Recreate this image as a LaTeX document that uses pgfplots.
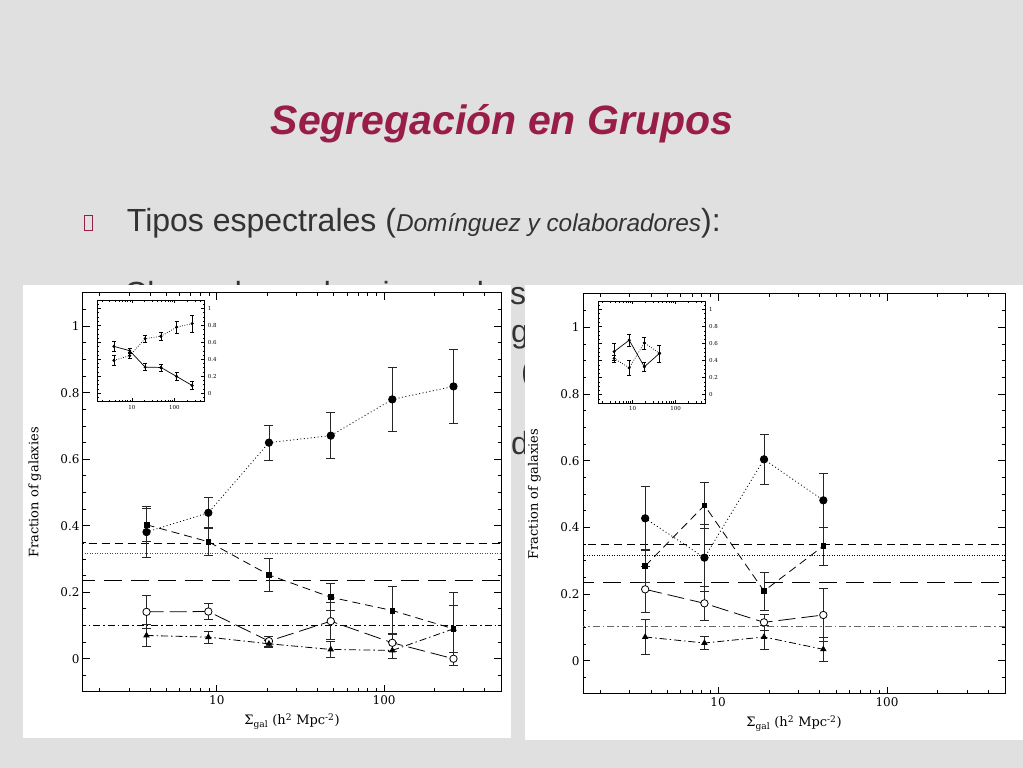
\documentclass[border=0pt]{standalone}
\usepackage{fontspec}
\setmainfont{Liberation Sans}
\newfontfamily\axfont{DejaVu Serif}
\usepackage{pgfplots}
\pgfplotsset{compat=1.18}

\definecolor{slidebg}{RGB}{224,224,224}
\definecolor{titlered}{RGB}{152,29,72}
\definecolor{bodygray}{RGB}{51,51,51}

\pgfplotsset{
  mypanel/.style={
    scale only axis, xmin=1.585, xmax=500, ymin=-0.1, ymax=1.1,
    xtick={10,100}, xticklabels={10,100},
    minor xtick={2,3,4,5,6,7,8,9,20,30,40,50,60,70,80,90,200,300,400,500},
    ytick={0,0.2,0.4,0.6,0.8,1}, yticklabels={0,0.2,0.4,0.6,0.8,1},
    minor ytick={-0.05,0.05,0.1,0.15,0.25,0.3,0.35,0.45,0.5,0.55,0.65,0.7,0.75,0.85,0.9,0.95,1.05},
    tick align=inside,
    axis line style={line width=1pt},
    every tick/.append style={black, line width=0.8pt},
  },
  mybig/.style={mypanel,
    major tick length=7pt, minor tick length=3.5pt,
    tick label style={font=\axfont\fontsize{12}{14}\selectfont},
    label style={font=\axfont\fontsize{13}{15}\selectfont},
    ylabel={Fraction of galaxies},
    xlabel={Σ\textsubscript{gal} (h\textsuperscript{2} Mpc\textsuperscript{-2})},
    ylabel style={at={(axis description cs:-0.115,0.5)}, anchor=center},
    xlabel style={at={(axis description cs:0.5,-0.074)}, anchor=center},
  },
  myinset/.style={mypanel,
    major tick length=3.5pt, minor tick length=1.8pt,
    yticklabel pos=right,
    tick label style={font=\axfont\fontsize{5.5}{6}\selectfont},
    axis line style={line width=0.8pt},
    every tick/.append style={line width=0.6pt},
    axis background/.style={fill=white},
  },
  myeb/.style={error bars/y dir=both, error bars/y explicit,
    error bars/error bar style={solid, line width=0.9pt, black!85},
    error bars/error mark options={solid, rotate=90, mark size=4.5pt, line width=0.9pt, black!85}},
  myebs/.style={error bars/y dir=both, error bars/y explicit,
    error bars/error bar style={solid, line width=0.5pt, black},
    error bars/error mark options={solid, rotate=90, mark size=2pt, line width=0.5pt, black}},
  mydots/.style={dash pattern=on 1pt off 2.5pt},
  mysdash/.style={dash pattern=on 8pt off 5pt},
  myldash/.style={dash pattern=on 17pt off 6pt},
  myddot/.style={dash pattern=on 7pt off 3pt on 1.5pt off 3pt},
  myfullc/.style={mark=*, mark size=3.7pt, mark options={solid, fill=black}},
  myopenc/.style={mark=*, mark size=3.7pt, mark options={solid, fill=white, draw=black, line width=0.8pt}},
  mysq/.style={mark=square*, mark size=2.4pt, mark options={solid, fill=black}},
  mytri/.style={mark=triangle*, mark size=3pt, mark options={solid, fill=black}},
  mydot/.style={mark=*, mark size=1.2pt, mark options={solid, fill=black}},
  myblk/.style={black, line width=0.8pt},
}

\begin{document}
\begin{tikzpicture}
\begin{scope}[x=1pt,y=1pt]
\useasboundingbox (0,0) rectangle (1023,768);
\fill[slidebg] (0,0) rectangle (1023,768);

\node[anchor=base, inner sep=0, text=titlered,
  font=\bfseries\itshape\fontsize{41}{48}\selectfont] at (502,633) {Segregación en Grupos};

\draw[titlered, line width=0.8pt] (84,538) rectangle (92,553);
\node[anchor=base west, inner sep=0, text=bodygray, font=\fontsize{32}{38}\selectfont]
  at (126.7,536.3) {Tipos espectrales ({\fontsize{24.4}{29}\selectfont\itshape Domínguez y colaboradores}):};

% text of the slide hidden behind the figures (only a few fragments show)
\begin{scope}[every node/.style={anchor=base west, inner sep=0, text=bodygray, font=\fontsize{32}{38}\selectfont}]
\node at (124,463) {Clara};
\node at (224,463) {dependencia con la};
\node at (510,463) {s};
\node at (511,425) {g};
\node at (521,385) {(};
\node at (511,313) {d};
\end{scope}

\fill[white] (23,30) rectangle (511,483);
\fill[white] (525,28) rectangle (1023,483);
\end{scope}

% ---------------- left figure ----------------
\begin{semilogxaxis}[mybig, at={(83pt,76pt)}, anchor=south west, width=418pt, height=399pt]
\addplot[black, line width=0.7pt, mysdash] coordinates {(1,0.348) (1000,0.348)};
\addplot[black!70, line width=0.6pt, dash pattern=on 1pt off 1.5pt] coordinates {(1,0.316) (1000,0.316)};
\addplot[black, line width=0.9pt, dash pattern=on 18pt off 9pt] coordinates {(1,0.236) (1000,0.236)};
\addplot[black, line width=0.7pt, myddot] coordinates {(1,0.1) (1000,0.1)};

\addplot[myblk, mydots, myfullc, myeb] coordinates {
  (3.8,0.381) +- (0,0.077)
  (8.9,0.439) +- (0,0.045)
  (20.5,0.650) +- (0,0.053)
  (48,0.671) +- (0,0.070)
  (112,0.780) +- (0,0.095)
  (260,0.819) +- (0,0.111)
};
\addplot[myblk, mysdash, mysq, myeb] coordinates {
  (3.8,0.403) +- (0,0.050)
  (8.9,0.352) +- (0,0.040)
  (20.5,0.252) +- (0,0.050)
  (48,0.185) +- (0,0.040)
  (112,0.145) +- (0,0.073)
  (260,0.090) +- (0,0.110)
};
\addplot[myblk, myldash, myopenc, myeb] coordinates {
  (3.8,0.141) +- (0,0.050)
  (8.9,0.142) +- (0,0.024)
  (20.5,0.053) +- (0,0.015)
  (48,0.113) +- (0,0.055)
  (112,0.048) +- (0,0.027)
  (260,0.000) +- (0,0.020)
};
\addplot[myblk, myddot, mytri, myeb] coordinates {
  (3.8,0.070) +- (0,0.033)
  (8.9,0.065) +- (0,0.018)
  (20.5,0.045) +- (0,0.010)
  (48,0.028) +- (0,0.024)
  (112,0.025) +- (0,0.025)
  (260,0.090) +- (0,0.070)
};
\end{semilogxaxis}

\begin{semilogxaxis}[myinset, at={(97.7pt,366.3pt)}, anchor=south west, width=106.6pt, height=101.7pt]
\addplot[myblk, line width=0.7pt, mydot, myebs] coordinates {
  (3.8,0.553) +- (0,0.060)
  (8.9,0.502) +- (0,0.030)
  (20.5,0.308) +- (0,0.040)
  (48,0.304) +- (0,0.040)
  (112,0.198) +- (0,0.045)
  (260,0.091) +- (0,0.050)
};
\addplot[myblk, line width=0.7pt, dash pattern=on 0.8pt off 1.6pt, mydot, myebs] coordinates {
  (3.8,0.387) +- (0,0.060)
  (8.9,0.443) +- (0,0.035)
  (20.5,0.644) +- (0,0.045)
  (48,0.672) +- (0,0.050)
  (112,0.779) +- (0,0.070)
  (260,0.822) +- (0,0.100)
};
\end{semilogxaxis}

% ---------------- right figure ----------------
\begin{semilogxaxis}[mybig, at={(583pt,74pt)}, anchor=south west, width=422pt, height=400pt]
\addplot[black, line width=0.7pt, mysdash] coordinates {(1,0.348) (1000,0.348)};
\addplot[black, line width=0.6pt, dash pattern=on 1pt off 1.5pt] coordinates {(1,0.316) (1000,0.316)};
\addplot[black, line width=0.9pt, dash pattern=on 18pt off 9pt] coordinates {(1,0.234) (1000,0.234)};
\addplot[black!60, line width=0.7pt, myddot] coordinates {(1,0.102) (1000,0.102)};

\addplot[myblk, mydots, myfullc, myeb] coordinates {
  (3.7,0.427) +- (0,0.097)
  (8.3,0.309) +- (0,0.100)
  (18.7,0.604) +- (0,0.075)
  (42,0.481) +- (0,0.082)
};
\addplot[myblk, mysdash, mysq, myeb] coordinates {
  (3.7,0.284) +- (0,0.050)
  (8.3,0.466) +- (0,0.068)
  (18.7,0.209) +- (0,0.057)
  (42,0.344) +- (0,0.057)
};
\addplot[myblk, myldash, myopenc, myeb] coordinates {
  (3.7,0.214) +- (0,0.070)
  (8.3,0.172) +- (0,0.050)
  (18.7,0.115) +- (0,0.025)
  (42,0.137) +- (0,0.080)
};
\addplot[myblk, myddot, mytri, myeb] coordinates {
  (3.7,0.071) +- (0,0.053)
  (8.3,0.053) +- (0,0.020)
  (18.7,0.071) +- (0,0.036)
  (42,0.034) +- (0,0.035)
};
\end{semilogxaxis}

\begin{semilogxaxis}[myinset, at={(598.3pt,364.7pt)}, anchor=south west, width=107.4pt, height=102.3pt]
\addplot[myblk, line width=0.7pt, mydot, myebs] coordinates {
  (3.7,0.506) +- (0,0.100)
  (8.3,0.640) +- (0,0.070)
  (18.7,0.328) +- (0,0.050)
  (42,0.486) +- (0,0.100)
};
\addplot[myblk, line width=0.7pt, dash pattern=on 0.8pt off 1.6pt, mydot, myebs] coordinates {
  (3.7,0.427) +- (0,0.040)
  (8.3,0.316) +- (0,0.090)
  (18.7,0.609) +- (0,0.070)
  (42,0.486) +- (0,0.100)
};
\end{semilogxaxis}
\end{tikzpicture}
\end{document}
